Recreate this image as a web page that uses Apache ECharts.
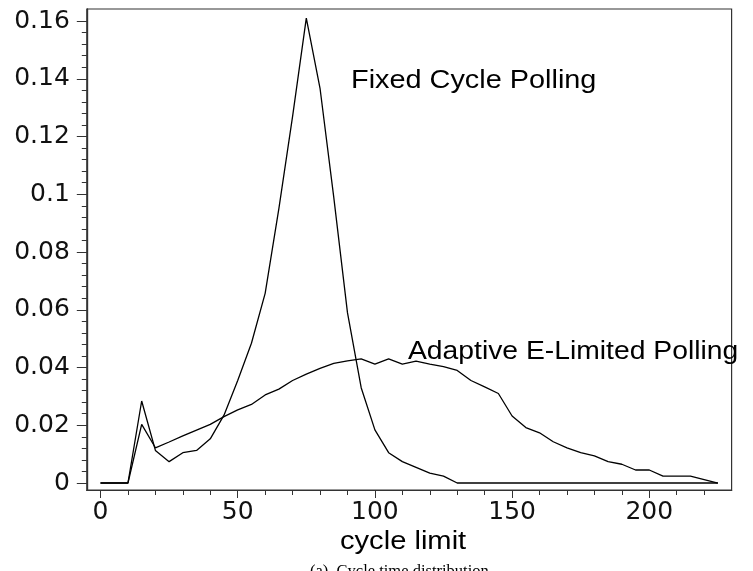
<!DOCTYPE html>
<html>
<head>
<meta charset="utf-8">
<script src="https://cdn.jsdelivr.net/npm/echarts@6/dist/echarts.min.js"></script>
<style>
html,body{margin:0;padding:0;background:#fff;}
#chart{width:753px;height:571px;}
</style>
</head>
<body>
<div id="chart"></div>
<script>
// ---- data ----
const cycleLimit = [0,5,10,15,20,25,30,35,40,45,50,55,60,65,70,75,80,85,90,95,100,105,110,115,120,125,130,135,140,145,150,155,160,165,170,175,180,185,190,195,200,205,210,215,220,225];
const fixedCyclePolling = [0,0,0,0.0284,0.0113,0.0074,0.0105,0.0113,0.0153,0.0235,0.0355,0.0484,0.0657,0.095,0.127,0.161,0.1367,0.099,0.059,0.033,0.0184,0.0105,0.0074,0.0054,0.0034,0.0024,0,0,0,0,0,0,0,0,0,0,0,0,0,0,0,0,0,0,0,0];
const adaptiveELimitedPolling = [0,0,0,0.0203,0.0122,0.0142,0.0163,0.0183,0.0203,0.023,0.0253,0.0272,0.0305,0.0325,0.0355,0.0377,0.0397,0.0414,0.0423,0.043,0.0412,0.043,0.0412,0.0422,0.0412,0.0403,0.039,0.0355,0.0333,0.031,0.0232,0.0192,0.0174,0.0143,0.0122,0.0105,0.0094,0.0074,0.0065,0.0045,0.0045,0.0024,0.0024,0.0024,0.0012,0];
const xMajorTicks = [0,50,100,150,200];
const xMinorTicks = [0,10,20,30,40,50,60,70,80,90,100,110,120,130,140,150,160,170,180,190,200,210,220];
const yMajorTicks = [0,0.02,0.04,0.06,0.08,0.1,0.12,0.14,0.16];
const yMinorTicks = [0,0.004,0.008,0.012,0.016,0.02,0.024,0.028,0.032,0.036,0.04,0.044,0.048,0.052,0.056,0.06,0.064,0.068,0.072,0.076,0.08,0.084,0.088,0.092,0.096,0.1,0.104,0.108,0.112,0.116,0.12,0.124,0.128,0.132,0.136,0.14,0.144,0.148,0.152,0.156,0.16];
const seriesNames = ['Fixed Cycle Polling','Adaptive E-Limited Polling'];
const xTitle = 'cycle limit';
const caption = '(a)  Cycle time distribution';

const chart = echarts.init(document.getElementById('chart'), null, {renderer:'canvas'});
const axisColor = '#333';
const lab = {fontFamily:'DejaVu Sans', fontSize:25, color:'#111'};
const xMin = -5, xMax = 230, yMin = -0.00242, yMax = 0.16416;

function xAxisDef(values, len, labels){
  return {
    type:'value', min:xMin, max:xMax, position:'bottom',
    axisLine:{show:true, onZero:false, lineStyle:{color:axisColor, width:1.2}},
    axisTick:{show:true, inside:false, length:len, customValues:values, lineStyle:{color:axisColor, width:1}},
    axisLabel:{show:labels, customValues:values, margin:10, ...lab},
    splitLine:{show:false}
  };
}
function yAxisDef(values, len, labels){
  return {
    type:'value', min:yMin, max:yMax, position:'left',
    axisLine:{show:true, onZero:false, lineStyle:{color:axisColor, width:1.2}},
    axisTick:{show:true, inside:false, length:len, customValues:values, lineStyle:{color:axisColor, width:1}},
    axisLabel:{show:labels, customValues:values, margin:17, ...lab,
      formatter:v=>String(+(+v).toFixed(3))},
    splitLine:{show:false}
  };
}

const txt = (text, x, y, size, va, family, sx) => ({
  type:'text', x:x, y:y, scaleX:sx, z:100,
  style:{text:text, x:0, y:0, fill:'#000', font:size+'px "'+family+'"', textAlign:'left', textVerticalAlign:va, verticalAlign:va}
});

chart.setOption({
  animation:false,
  backgroundColor:'#fff',
  grid:{left:86.8, top:9, right:21.4, bottom:81, show:true, borderColor:axisColor, borderWidth:1.2, backgroundColor:'transparent', containLabel:false},
  xAxis:[xAxisDef(xMajorTicks, 8, true), xAxisDef(xMinorTicks, 5, false)],
  yAxis:[yAxisDef(yMajorTicks, 10, true), yAxisDef(yMinorTicks, 5, false)],
  series:[
    {name:seriesNames[0], type:'line', showSymbol:false, symbol:'none', silent:true,
     data:cycleLimit.map((c,i)=>[c, fixedCyclePolling[i]]),
     lineStyle:{color:'#000', width:1.3}},
    {name:seriesNames[1], type:'line', showSymbol:false, symbol:'none', silent:true,
     data:cycleLimit.map((c,i)=>[c, adaptiveELimitedPolling[i]]),
     lineStyle:{color:'#000', width:1.3}}
  ],
  graphic:[
    txt(seriesNames[0], 351, 81, 26, 'middle', 'Liberation Sans', 1.11),
    txt(seriesNames[1], 408, 352, 26, 'middle', 'Liberation Sans', 1.088),
    txt(xTitle, 340, 542, 26, 'middle', 'Liberation Sans', 1.12),
    txt(caption, 310, 563, 16.5, 'top', 'Liberation Serif', 1.0)
  ]
});
</script>
</body>
</html>
